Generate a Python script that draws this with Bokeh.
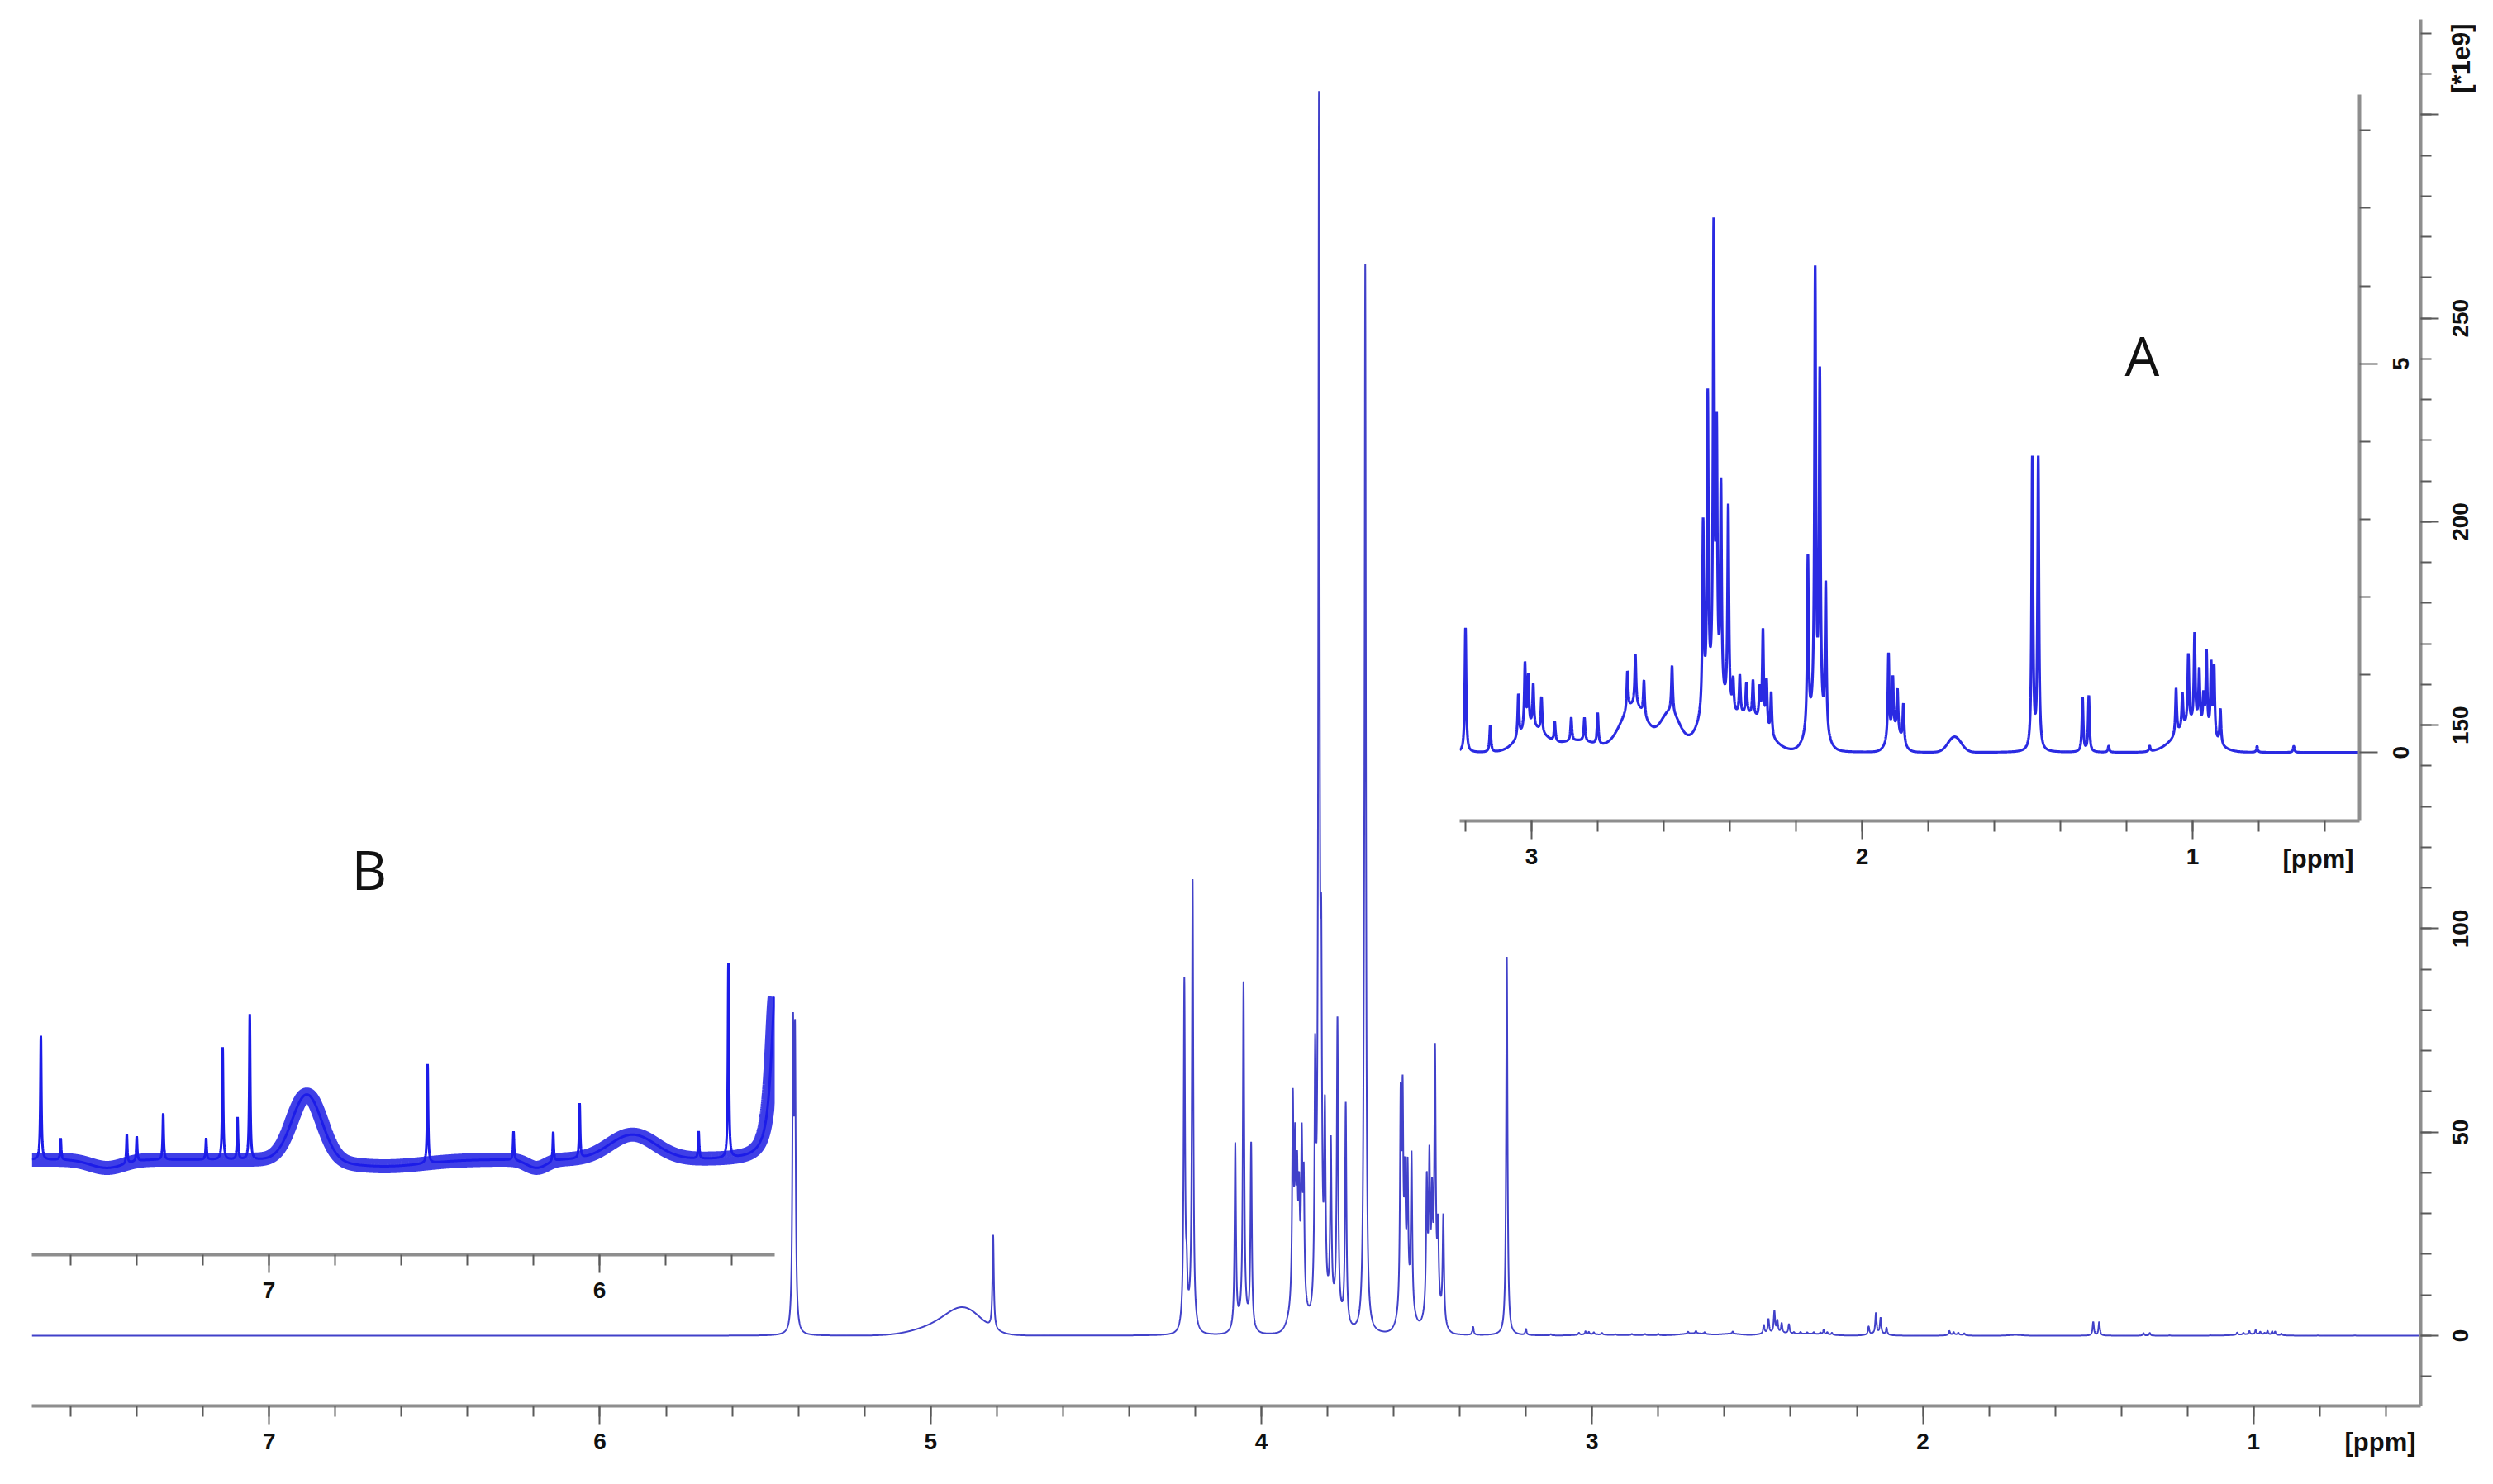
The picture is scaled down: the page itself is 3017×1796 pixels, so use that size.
import math
import numpy as np
from bokeh.plotting import figure
from bokeh.models import Range1d, FixedTicker, Label, GridBox, CustomLabelingPolicy
from bokeh.core.properties import value
from bokeh.embed import file_html
from bokeh.resources import INLINE

# ---------------- data ----------------
# main spectrum, narrow lines: chemical shift [ppm] and height [*1e9]
main_ppm = [5.416, 5.410, 4.811, 4.233, 4.226, 4.208, 4.079, 4.054, 4.031,
            3.905, 3.898, 3.892, 3.886, 3.878, 3.872, 3.8375, 3.826, 3.819,
            3.808, 3.790, 3.770, 3.745, 3.690, 3.686, 3.579, 3.573, 3.566,
            3.558, 3.546, 3.500, 3.492, 3.484, 3.475, 3.466, 3.450, 3.360, 3.258]
main_h = [70, 68, 23, 84, 9, 109, 45, 83, 45,
          49, 34, 26, 22, 37, 29, 58, 292, 70,
          45, 40, 72, 54, 30, 255, 50, 48, 28,
          32, 38, 31, 34, 23, 60, 18, 26, 2, 93]
main_hwhm = 0.0024
# main spectrum, broad features: centre [ppm], height, sigma [ppm]
main_broad_ppm = [4.95, 4.895, 3.89, 3.79, 3.56, 3.48, 4.22, 4.055]
main_broad_h = [3.0, 4.5, 8.0, 5.0, 6.0, 8.0, 3.0, 3.0]
main_broad_sd = [0.08, 0.05, 0.02, 0.03, 0.02, 0.02, 0.015, 0.02]
# scale of inset A trace relative to the main one (high-field part of main spectrum)
main_low_scale = 0.9

# inset A (3.2 - 0.5 ppm), narrow lines
a_ppm = [3.200, 3.125, 3.040, 3.020, 3.010, 2.995, 2.970, 2.930, 2.880, 2.840, 2.800,
         2.710, 2.686, 2.660, 2.575, 2.481, 2.467, 2.449, 2.440, 2.427, 2.405,
         2.390, 2.370, 2.350, 2.330, 2.310, 2.300, 2.289, 2.275,
         2.164, 2.142, 2.128, 2.110, 1.920, 1.907, 1.893, 1.875,
         1.485, 1.467, 1.333, 1.314, 1.254, 1.130,
         1.050, 1.031, 1.013, 0.994, 0.980, 0.967, 0.958, 0.944, 0.935, 0.916,
         0.805, 0.694]
a_h = [1.6, 0.35, 0.55, 0.85, 0.65, 0.55, 0.45, 0.25, 0.3, 0.3, 0.4,
       0.5, 0.65, 0.45, 0.6, 2.4, 3.9, 5.9, 3.2, 2.7, 2.6,
       0.4, 0.5, 0.4, 0.45, 0.4, 1.2, 0.6, 0.55,
       2.2, 5.7, 4.4, 1.9, 1.1, 0.7, 0.55, 0.5,
       3.75, 3.75, 0.7, 0.72, 0.08, 0.07,
       0.6, 0.45, 0.9, 1.15, 0.7, 0.4, 1.0, 0.9, 0.9, 0.45,
       0.08, 0.08]
a_hwhm = 0.0024
a_broad_ppm = [2.69, 2.58, 2.45, 2.34, 2.14, 1.90, 1.72, 1.00, 3.00, 2.86]
a_broad_h = [0.6, 0.5, 0.6, 0.45, 0.4, 0.25, 0.2, 0.35, 0.3, 0.15]
a_broad_sd = [0.04, 0.03, 0.04, 0.05, 0.025, 0.02, 0.02, 0.05, 0.04, 0.06]

# inset B (7.7 - 5.47 ppm), narrow lines
b_ppm = [7.690, 7.630, 7.430, 7.400, 7.320, 7.190, 7.140, 7.095, 7.058,
         6.520, 6.260, 6.140, 6.060, 5.700, 5.610]
b_h = [15, 2.6, 3.6, 3.0, 5.6, 2.6, 13.6, 5.1, 17.6,
       12, 3.5, 3.6, 6.6, 3.3, 23.5]
b_hwhm = 0.0018
# inset B baseline features (noise band)
b_broad_ppm = [6.885, 5.900, 7.490, 6.650, 6.190]
b_broad_h = [8.0, 3.0, -1.0, -0.8, -1.0]
b_broad_sd = [0.045, 0.07, 0.05, 0.12, 0.03]
b_wing_ppm = [5.468]
b_wing_h = [20.0]
b_wing_hwhm = 0.016

main_x_major = [7, 6, 5, 4, 3, 2, 1]
main_y_major = [0, 50, 100, 150, 200, 250, 300]
main_y_labels = ["0", "50", "100", "150", "200", "250"]
a_x_major = [3, 2, 1]
a_y_major = [0, 5]
a_y_labels = ["0", "5"]
b_x_major = [7, 6]
unit_x = "[ppm]"
unit_y = "[*1e9]"
unit_y_at = 313.9     # intensity value beside which the unit is written

# ---------------- helpers ----------------
def lorentz(x, pos, h, w):
    pos = np.asarray(pos, float)[:, None]
    h = np.asarray(h, float)[:, None]
    return (h / (1.0 + ((x[None, :] - pos) / w) ** 2)).sum(axis=0)


def gauss(x, pos, h, sd):
    pos = np.asarray(pos, float)[:, None]
    h = np.asarray(h, float)[:, None]
    sd = np.asarray(sd, float)[:, None]
    return (h * np.exp(-0.5 * ((x[None, :] - pos) / sd) ** 2)).sum(axis=0)


def grid(lo, hi, extra):
    g = np.arange(lo, hi, 0.0004)
    return np.unique(np.concatenate([g, np.asarray(extra, float)]))


AX_COL = "#8e8e8e"
TICK_COL = "#5a5a5a"
FONT = "Liberation Sans"
TXT = "#111111"
TICK_FS = "28px"
UNIT_FS = "31px"
RB = 88   # right / bottom border of every plot (kept equal, the grid aligns them)

HIDE_LABELS = CustomLabelingPolicy(code="""
    const all = Array.from(indices)
    for (const i of all) { indices.unset(i) }
    return indices
""")


def style_axis(ax, major, minor, show_labels=True):
    ax.ticker = FixedTicker(ticks=major, minor_ticks=minor)
    ax.axis_line_color = AX_COL
    ax.axis_line_width = 4
    ax.major_tick_line_color = TICK_COL
    ax.major_tick_line_width = 2
    ax.minor_tick_line_color = TICK_COL
    ax.minor_tick_line_width = 2
    ax.major_tick_in = 0
    ax.major_tick_out = 22
    ax.minor_tick_in = 0
    ax.minor_tick_out = 13
    ax.major_label_text_font = FONT
    ax.major_label_text_font_style = "bold"
    ax.major_label_text_font_size = TICK_FS
    ax.major_label_text_color = TXT
    ax.major_label_standoff = 11
    ax.axis_label = None
    ax.axis_label_standoff = 0
    if not show_labels:
        # tick marks only: the rotated labels are drawn in a side strip (see below)
        ax.major_label_policy = HIDE_LABELS
        ax.major_label_text_font_size = "1px"
        ax.major_label_standoff = 0


def clean(p):
    p.grid.visible = False
    p.outline_line_color = None
    p.align = "start"


def transparent(p):
    p.background_fill_color = None
    p.border_fill_color = None


def side_labels(w, h, y_range, xs, ys, texts, size):
    """Transparent strip sharing a plot's y range; texts rotated to read upwards."""
    f = figure(width=w, height=h, output_backend="svg", toolbar_location=None,
               x_range=Range1d(0, w), y_range=y_range,
               x_axis_location=None, y_axis_location=None, min_border=0)
    clean(f)
    transparent(f)
    f.text(x=xs, y=ys, text=texts, angle=math.pi / 2, text_align="center",
           text_baseline="middle", text_font=value(FONT), text_font_style="bold",
           text_font_size=value(size), text_color=TXT)
    return f


# ---------------- main spectrum ----------------
xm = grid(0.495, 7.7175, main_ppm + a_ppm)
ym = (lorentz(xm, main_ppm, main_h, main_hwhm)
      + gauss(xm, main_broad_ppm, main_broad_h, main_broad_sd)
      + main_low_scale * (lorentz(xm, a_ppm, a_h, a_hwhm)
                          + gauss(xm, a_broad_ppm, a_broad_h, a_broad_sd)))

# frame: 38..2929 px horizontally, 23..1701 px vertically
main_yr = Range1d(-17.26, 323.45)
main = figure(width=38 + 2891 + RB, height=23 + 1678 + RB,
              output_backend="svg", toolbar_location=None,
              x_range=Range1d(7.7175, 0.495), y_range=main_yr,
              y_axis_location="right", min_border=0,
              min_border_left=38, min_border_top=23,
              min_border_right=RB, min_border_bottom=RB)
clean(main)
main.background_fill_color = "white"
main.line(xm, ym, line_color="#4141c9", line_width=2)
style_axis(main.xaxis[0], main_x_major, [round(7.6 - 0.2 * i, 1) for i in range(36)])
style_axis(main.yaxis[0], main_y_major, list(range(-10, 330, 10)), show_labels=False)

main.add_layout(Label(x=1.3375, y=241.2, text="A", text_font="Open Sans",
                      text_font_size="66px", text_align="center", text_baseline="middle",
                      text_color=TXT))
main.add_layout(Label(x=6.6975, y=114.9, text="B", text_font="Open Sans",
                      text_font_size="66px", text_align="center", text_baseline="middle",
                      text_color=TXT))

# ---------------- inset A ----------------
xa = grid(0.495, 3.2175, a_ppm)
ya = lorentz(xa, a_ppm, a_h, a_hwhm) + gauss(xa, a_broad_ppm, a_broad_h, a_broad_sd)
a_yr = Range1d(-0.88, 8.46)
pa = figure(width=1089 + RB, height=879 + RB, output_backend="svg",
            toolbar_location=None,
            x_range=Range1d(3.2175, 0.495), y_range=a_yr,
            y_axis_location="right", min_border=0,
            min_border_right=RB, min_border_bottom=RB)
clean(pa)
transparent(pa)
pa.line(xa, ya, line_color="#2a2ae2", line_width=3.2)
style_axis(pa.xaxis[0], a_x_major, [round(3.2 - 0.2 * i, 1) for i in range(14)])
style_axis(pa.yaxis[0], a_y_major, [1, 2, 3, 4, 6, 7, 8], show_labels=False)

# ---------------- inset B ----------------
xb = grid(5.47, 7.7175, b_ppm)
yb_band = (gauss(xb, b_broad_ppm, b_broad_h, b_broad_sd)
           + lorentz(xb, b_wing_ppm, b_wing_h, b_wing_hwhm))
yb = yb_band + lorentz(xb, b_ppm, b_h, b_hwhm)
pb = figure(width=899 + RB, height=388 + RB, output_backend="svg",
            toolbar_location=None,
            x_range=Range1d(7.7175, 5.47), y_range=Range1d(-11.5, 27.3),
            y_axis_location=None, min_border=0,
            min_border_right=RB, min_border_bottom=RB)
clean(pb)
transparent(pb)
pb.line(xb, yb_band, line_color="#2424e4", line_width=17, line_alpha=0.88)
pb.line(xb, yb, line_color="#1c1ce8", line_width=3)
style_axis(pb.xaxis[0], b_x_major, [round(7.6 - 0.2 * i, 1) for i in range(11)])

# ---------------- rotated tick labels of the intensity axes ----------------
ylab_main = side_labels(60, 1678, main_yr, [32] * len(main_y_labels),
                        main_y_major[:len(main_y_labels)], main_y_labels, TICK_FS)
ylab_main.text(x=[33], y=[unit_y_at], text=[unit_y], angle=math.pi / 2,
               text_align="center", text_baseline="middle", text_font=value(FONT),
               text_font_style="bold", text_font_size=value(UNIT_FS), text_color=TXT)
ylab_a = side_labels(50, 879, a_yr, [25] * len(a_y_labels), a_y_major, a_y_labels, TICK_FS)


# ---------------- unit labels of the shift axes ----------------
def unit_label(w, h, txt, lx, ly):
    f = figure(width=w, height=h, output_backend="svg", toolbar_location=None,
               x_range=Range1d(0, w), y_range=Range1d(0, h),
               x_axis_location=None, y_axis_location=None, min_border=0)
    clean(f)
    transparent(f)
    f.add_layout(Label(x=lx, y=ly, text=txt, text_font=FONT,
                       text_font_style="bold", text_font_size=UNIT_FS,
                       text_align="center", text_baseline="middle", text_color=TXT))
    return f


lab_main_ppm = unit_label(120, 50, unit_x, 60, 25)
lab_a_ppm = unit_label(120, 50, unit_x, 60, 25)

# grid lines (px) - every panel ends on its own line so the grid does not align borders
# cols: 0,38,1766,2745,2820,2865,2880,2930,2940,2945,3005,3017
# rows: 0,23,114,993,1014,1064,1130,1701,1720,1770,1789
cols = ["38px", "1728px", "979px", "75px", "45px", "15px", "50px", "10px", "5px",
        "60px", "12px"]
rows = ["23px", "91px", "879px", "21px", "50px", "66px", "571px", "19px", "50px", "19px"]

layout = GridBox(children=[(main, 0, 0, 10, 11),
                           (pa, 2, 2, 4, 7),
                           (pb, 6, 1, 2, 2),
                           (ylab_main, 1, 9, 6, 1),
                           (ylab_a, 2, 6, 1, 1),
                           (lab_main_ppm, 8, 4, 1, 4),
                           (lab_a_ppm, 4, 3, 1, 2)],
                 rows=rows, cols=cols, spacing=0)

open("out.html", "w").write(file_html(layout, INLINE))
